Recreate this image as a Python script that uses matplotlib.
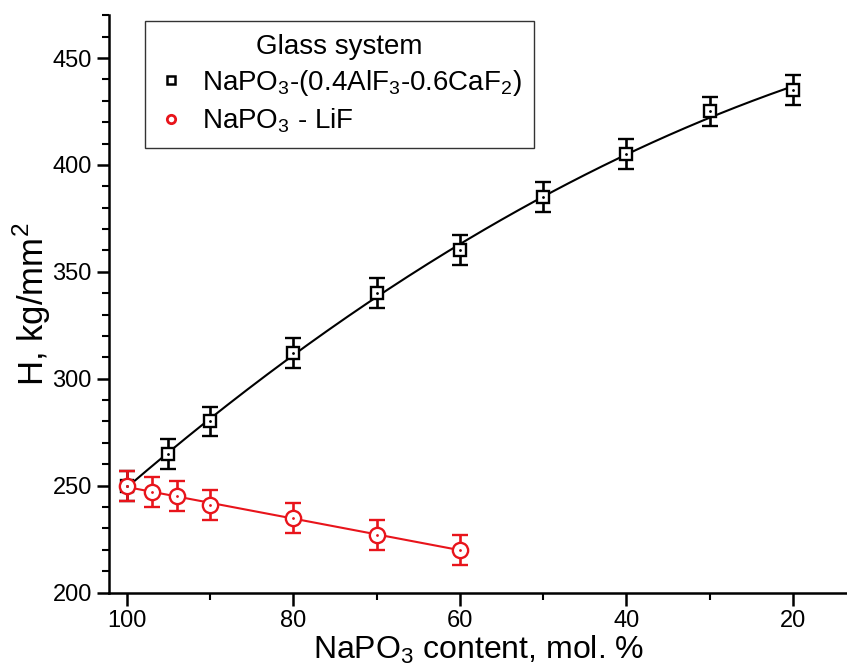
import numpy as np
import matplotlib
matplotlib.use("Agg")
import matplotlib.pyplot as plt
from matplotlib.ticker import MultipleLocator

plt.rcParams["font.family"] = ["Liberation Sans", "DejaVu Sans"]
plt.rcParams["mathtext.fontset"] = "custom"
plt.rcParams["mathtext.rm"] = "Liberation Sans"

# NaPO3-(0.4AlF3-0.6CaF2)
x_al = [100, 95, 90, 80, 70, 60, 50, 40, 30, 20]
h_al = [250, 265, 280, 312, 340, 360, 385, 405, 425, 435]
err_al = [7, 7, 7, 7, 7, 7, 7, 7, 7, 7]

# NaPO3 - LiF
x_li = [100, 97, 94, 90, 80, 70, 60]
h_li = [250, 247, 245, 241, 235, 227, 220]
err_li = [7, 7, 7, 7, 7, 7, 7]

fig = plt.figure(figsize=(8.47, 6.65), dpi=100)
ax = fig.add_axes([0.129, 0.109, 0.871, 0.868])

# fit curves
p_al = np.polyfit(x_al, h_al, 2)
xf = np.linspace(100, 20, 200)
ax.plot(xf, np.polyval(p_al, xf), color="black", lw=1.5, zorder=2)
p_li = np.polyfit(x_li, h_li, 1)
xf2 = np.linspace(100, 60, 100)
ax.plot(xf2, np.polyval(p_li, xf2), color="#e8141b", lw=1.5, zorder=2)

ax.errorbar(x_al, h_al, yerr=err_al, fmt="s", ms=9, mfc="white", mec="black",
            mew=1.7, ecolor="black", elinewidth=1.9, capsize=6, capthick=1.9, zorder=3)
ax.plot(x_al, h_al, ".", color="black", ms=2, zorder=4)
ax.errorbar(x_li, h_li, yerr=err_li, fmt="o", ms=11, mfc="white", mec="#e8141b",
            mew=1.7, ecolor="#e8141b", elinewidth=1.9, capsize=6, capthick=1.9, zorder=3)
ax.plot(x_li, h_li, ".", color="#e8141b", ms=2, zorder=4)

# legend handles
h1, = ax.plot([], [], "s", ms=6, mfc="white", mec="black", mew=1.8)
h2, = ax.plot([], [], "o", ms=6, mfc="white", mec="#e8141b", mew=2)
leg = ax.legend([h1, h2],
                [r"NaPO$_3$-(0.4AlF$_3$-0.6CaF$_2$)", r"NaPO$_3$ - LiF"],
                title="Glass system", fontsize=20, title_fontsize=20,
                loc="upper left", bbox_to_anchor=(0.048, 0.99), borderaxespad=0,
                frameon=True, fancybox=False, edgecolor="black", handlelength=1.0,
                handletextpad=0.6, borderpad=0.45, labelspacing=0.3)
leg.get_frame().set_linewidth(1.0)

ax.set_xlim(102.1, 13.5)
ax.set_ylim(200, 470)
ax.xaxis.set_major_locator(MultipleLocator(20))
ax.xaxis.set_minor_locator(MultipleLocator(10))
ax.yaxis.set_major_locator(MultipleLocator(50))
ax.yaxis.set_minor_locator(MultipleLocator(10))
ax.spines["top"].set_visible(False)
ax.spines["right"].set_visible(False)
for s in ("left", "bottom"):
    ax.spines[s].set_linewidth(1.8)
ax.tick_params(which="major", direction="out", length=9, width=1.8, labelsize=17)
ax.tick_params(which="minor", direction="out", length=5, width=1.5)

ax.set_xlabel(r"NaPO$_3$ content, mol. %", fontsize=23, labelpad=1)
ax.set_ylabel(r"H, kg/mm$^2$", fontsize=25, labelpad=0)

fig.savefig("out.png", dpi=100)
